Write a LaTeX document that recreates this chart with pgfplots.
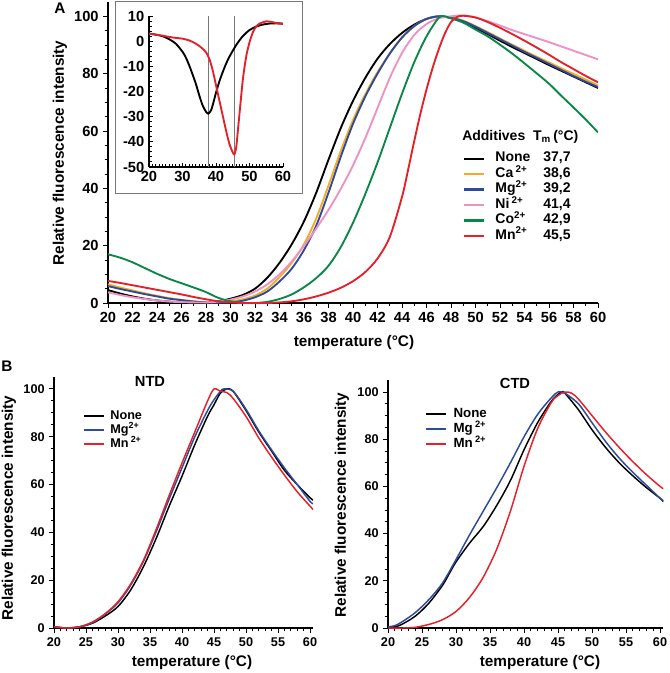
\documentclass[border=0pt]{standalone}
\usepackage{pgfplots}
\pgfplotsset{compat=1.18}
\usepackage{fontspec}
\setmainfont{Liberation Sans}
\definecolor{cNone}{RGB}{0,0,0}
\definecolor{cCa}{RGB}{247,170,35}
\definecolor{cMg}{RGB}{45,75,155}
\definecolor{cNi}{RGB}{238,145,195}
\definecolor{cCo}{RGB}{10,135,70}
\definecolor{cMn}{RGB}{228,32,40}
\definecolor{cGrid}{RGB}{120,120,120}
\begin{document}
\begin{tikzpicture}
\useasboundingbox (0pt,0pt) rectangle (501.75pt,-504.75pt);
\pgfplotsset{
  myaxis/.style={
    scale only axis, anchor=south west,
    axis lines=left, axis line style={-, line width=0.8pt},
    tick align=outside, tick style={line width=0.7pt, black},
    major tick length=3.5pt, minor tick length=2.5pt,
    /pgf/number format/assume math mode=true,
    tick label style={font=\bfseries\fontsize{11}{13}\selectfont},
    legend cell align=left,
  }
}
% ---------------- Panel A main ----------------
\begin{axis}[myaxis,
  at={(81pt,-227.25pt)}, width=367.5pt, height=225.75pt,
  xmin=20, xmax=60, ymin=0, ymax=105,
  xtick={20,22,...,60}, minor x tick num=1,
  ytick={0,20,...,100}, minor y tick num=3,
  legend style={at={(0.7245,0.505)}, anchor=north west, draw=none, fill=none,
    inner sep=0pt, column sep=7.5pt, row sep=0.6pt,
    font=\bfseries\fontsize{10.5}{12}\selectfont,
    nodes={inner sep=0pt, text height=8pt, text depth=3pt}},
  legend image code/.code={\draw[#1, line width=1.6pt] (0pt,0pt) -- (15pt,0pt);},
]
\addplot[cNone, line width=1.4pt, smooth] coordinates {
(20,4.5)(21,3.3)(22,2.3)(23,1.5)(24,0.9)(25,0.5)(26,0.2)(27,0.1)(28,0.2)(29,0.6)(30,1.5)(31,2.8)(32,5)(33,8.8)(34,14)(35,20.5)(36,28.5)(37,38.5)(38,50)(39,61)(40,70.5)(41,78.5)(42,85.2)(43,90.3)(44,94.2)(45,97.1)(46,99.1)(47,100)(48,99.4)(49,98)(50,96)(51,93.8)(52,91.5)(53,89.3)(54,87.2)(55,85.1)(56,83)(57,81)(58,79)(59,77)(60,75)};
\addlegendentry{\makebox[36pt][l]{None}37,7}
\addplot[cCa, line width=1.4pt, smooth] coordinates {
(20,6.5)(21,5.4)(22,4.4)(23,3.4)(24,2.5)(25,1.7)(26,1.1)(27,0.6)(28,0.3)(29,0.3)(30,0.6)(31,1.3)(32,2.6)(33,5)(34,9)(35,14)(36,20.5)(37,29.5)(38,41)(39,53)(40,63.8)(41,72.8)(42,80.5)(43,87)(44,92.6)(45,96.6)(46,99.1)(47,100)(48,99.6)(49,98.5)(50,96.6)(51,94.5)(52,92.3)(53,90.1)(54,88)(55,85.9)(56,83.9)(57,81.9)(58,79.9)(59,77.9)(60,75.9)};
\addlegendentry{\makebox[36pt][l]{Ca\,\textsuperscript{2+}}38,6}
\addplot[cMg, line width=1.4pt, smooth] coordinates {
(20,5.9)(21,4.9)(22,4)(23,3.1)(24,2.3)(25,1.5)(26,1)(27,0.5)(28,0.2)(29,0.1)(30,0.2)(31,0.8)(32,2)(33,4)(34,7.5)(35,12)(36,18.5)(37,27)(38,38.5)(39,51)(40,62.5)(41,72)(42,80)(43,87)(44,92.6)(45,96.6)(46,99.1)(47,100)(48,99.5)(49,98.3)(50,96.4)(51,94.2)(52,92)(53,89.8)(54,87.6)(55,85.5)(56,83.4)(57,81.3)(58,79.2)(59,77.2)(60,75.3)};
\addlegendentry{\makebox[36pt][l]{Mg\textsuperscript{2+}}39,2}
\addplot[cNi, line width=1.4pt, smooth] coordinates {
(20,3.7)(21,2.8)(22,2)(23,1.4)(24,0.9)(25,0.5)(26,0.3)(27,0.2)(28,0.2)(29,0.5)(30,1.2)(31,2.3)(32,4)(33,6.5)(34,10)(35,14.5)(36,20)(37,26)(38,32.5)(39,39.8)(40,48)(41,57.5)(42,68)(43,78.5)(44,87.2)(45,93.5)(46,97.3)(47,99.3)(48,100)(49,100.3)(50,99.6)(51,98.3)(52,96.8)(53,95.2)(54,93.8)(55,92.4)(56,91)(57,89.5)(58,88)(59,86.5)(60,85)};
\addlegendentry{\makebox[36pt][l]{Ni\,\textsuperscript{2+}}41,4}
\addplot[cCo, line width=1.4pt, smooth] coordinates {
(20,17)(21,15.8)(22,14.2)(23,12.2)(24,10.2)(25,8.4)(26,6.9)(27,5.4)(28,3.8)(29,1.8)(30,0.6)(31,0.1)(32,0)(33,0.4)(34,1.4)(35,3)(36,5.5)(37,8.7)(38,13)(39,19.5)(40,28)(41,38)(42,49)(43,61)(44,73)(45,84)(46,93)(47,99.5)(47.5,100)(48,99.3)(49,97.8)(50,95.4)(51,93)(52,90.1)(53,87)(54,83.6)(55,80.1)(56,76.5)(57,72.3)(58,68.2)(59,64)(60,59.5)};
\addlegendentry{\makebox[36pt][l]{Co\textsuperscript{2+}}42,9}
\addplot[cMn, line width=1.4pt, smooth] coordinates {
(20,7.7)(21,7.0)(22,6.2)(23,5.4)(24,4.6)(25,3.8)(26,3.0)(27,2.1)(28,1.3)(29,0.6)(30,0.2)(31,0)(32,0)(33,0)(34,0.2)(35,0.6)(36,1.3)(37,2.3)(38,3.6)(39,5.3)(40,7.6)(41,10.8)(42,15.5)(43,23)(44,37)(44.5,46.5)(45,56.5)(45.5,66)(46,74.5)(46.5,82)(47,88.5)(47.5,94)(48,98)(48.5,99.8)(49,100.2)(50,99.6)(51,98)(52,96)(53,93.8)(54,91.5)(55,89.1)(56,86.6)(57,84)(58,81.6)(59,79.2)(60,77)};
\addlegendentry{\makebox[36pt][l]{Mn\textsuperscript{2+}}45,5}
\end{axis}
\node[anchor=west, font=\bfseries\fontsize{10.5}{12}\selectfont, inner sep=0pt] at (346.5pt,-102.75pt) {Additives~~T\textsubscript{m}\,(°C)};
\node[font=\bfseries\fontsize{11.5}{13}\selectfont] at (45pt,-6pt) {A};
\node[rotate=90, font=\bfseries\fontsize{11.5}{13}\selectfont] at (45pt,-114.75pt) {Relative fluorescence intensity};
\node[font=\bfseries\fontsize{11.5}{13}\selectfont] at (265.5pt,-257.25pt) {temperature (°C)};
% ---------------- Inset ----------------
\draw[fill=white, draw=cGrid, line width=0.6pt] (86.25pt,-0.75pt) rectangle (226.5pt,-144.75pt);
\begin{axis}[myaxis,
  at={(111.75pt,-125.25pt)}, width=100.5pt, height=113.25pt,
  tick align=inside,
  xmin=20, xmax=60, ymin=-50, ymax=10,
  xtick={20,30,...,60}, minor x tick num=9,
  ytick={-50,-40,...,10}, minor y tick num=4,
  major tick length=3pt, minor tick length=2pt,
]
\addplot[cGrid, line width=0.6pt] coordinates {(37.7,-50)(37.7,10)};
\addplot[cGrid, line width=0.6pt] coordinates {(45.5,-50)(45.5,10)};
\addplot[cNone, line width=1.4pt, smooth] coordinates {
(20,3)(22,2.6)(24,2)(26,0.8)(28,-1)(30,-4.2)(31,-6.5)(32,-9.6)(33,-13.2)(34,-17)(35,-21.5)(36,-25.5)(37,-28)(37.7,-28.8)(38.5,-27.5)(39,-25.5)(40,-20.5)(41,-16)(42,-12.3)(43,-9)(44,-6.2)(46,-1.6)(48,2)(50,4.4)(52,5.8)(54,6.6)(56,7)(58,7.1)(60,7)};
\addplot[cMn, line width=1.4pt, smooth] coordinates {
(20,3)(22,2.6)(24,2.2)(26,1.7)(28,1.3)(30,1)(32,0.3)(33,-0.3)(34,-1)(35,-1.9)(36,-3)(37,-4.4)(38,-7)(39,-11.5)(40,-17.5)(41,-23.5)(42,-29.5)(43,-35.5)(44,-40.8)(45,-44.2)(45.5,-45)(46,-42.5)(46.5,-36)(47,-29)(48,-15.5)(49,-6.2)(50,-0.5)(51,3.5)(52,5.8)(53,7)(54,7.5)(55,7.9)(56,7.8)(58,7.2)(60,6.8)};
\end{axis}
% ---------------- Panel B ----------------
\node[font=\bfseries\fontsize{11.5}{13}\selectfont] at (5.25pt,-274.5pt) {B};
\begin{axis}[myaxis,
  at={(40.5pt,-471pt)}, width=194.4pt, height=188.25pt,
  xmin=20, xmax=60.5, ymin=0, ymax=105,
  xtick={20,25,...,60}, minor x tick num=4,
  ytick={0,20,...,100}, minor y tick num=3,
  tick label style={font=\bfseries\fontsize{9.5}{11}\selectfont},
  legend style={at={(0.112,0.872)}, anchor=north west, draw=none, fill=none,
    inner sep=0pt, column sep=4pt, row sep=0.5pt,
    font=\bfseries\fontsize{9.5}{11}\selectfont,
    nodes={inner sep=0pt, text height=7.5pt, text depth=2.5pt}},
  legend image code/.code={\draw[#1, line width=1.3pt] (0pt,0pt) -- (15pt,0pt);},
]
\addplot[cNone, line width=1.1pt, smooth] coordinates {
(20,0.5)(22,0)(24,0.5)(26,2)(28,5)(30,9)(32,16)(34,25.8)(36,37.7)(38,51)(40,63.5)(42,76.7)(44,88.6)(45,93.4)(46,98.3)(47,100)(48,99)(50,91)(52,82)(54,74)(56,66)(58,60)(60,54.5)(60.5,53.5)};
\addlegendentry{None}
\addplot[cMg, line width=1.1pt, smooth] coordinates {
(20,0.5)(22,0)(24,0.5)(26,2.2)(28,5.8)(30,10.5)(32,18)(34,28)(36,40.5)(38,54)(40,67)(42,80)(44,91)(45,95.5)(46,99)(46.5,100)(48,99)(50,91.5)(52,82.5)(54,74.5)(56,67)(58,60)(60,53)(60.5,52)};
\addlegendentry{Mg\textsuperscript{2+}}
\addplot[cMn, line width=1.1pt, smooth] coordinates {
(20,0.5)(22,0)(24,0.5)(26,2.5)(28,6)(30,11)(32,18.5)(34,28.5)(36,41.5)(38,55.5)(40,69)(42,82)(44,95)(45,100)(46,99)(47,98.5)(48,96)(50,88.5)(52,79.5)(54,71.5)(56,64)(58,57)(60,51)(60.5,49.5)};
\addlegendentry{Mn\,\textsuperscript{2+}}
\end{axis}
\node[font=\bfseries\fontsize{11}{13}\selectfont] at (112.5pt,-285.75pt) {NTD};
\node[rotate=90, font=\bfseries\fontsize{11.5}{13}\selectfont] at (6.75pt,-381pt) {Relative fluorescence intensity};
\node[font=\bfseries\fontsize{11.5}{13}\selectfont] at (144pt,-497.25pt) {temperature (°C)};
\begin{axis}[myaxis,
  at={(291pt,-471pt)}, width=206.55pt, height=185.85pt,
  xmin=20, xmax=60.5, ymin=0, ymax=105,
  xtick={20,25,...,60}, minor x tick num=4,
  ytick={0,20,...,100}, minor y tick num=3,
  tick label style={font=\bfseries\fontsize{9.5}{11}\selectfont},
  legend style={at={(0.134,0.894)}, anchor=north west, draw=none, fill=none,
    inner sep=0pt, column sep=5pt, row sep=1pt,
    font=\bfseries\fontsize{10}{12}\selectfont,
    nodes={inner sep=0pt, text height=7.8pt, text depth=2.6pt}},
  legend image code/.code={\draw[#1, line width=1.3pt] (0pt,0pt) -- (15pt,0pt);},
]
\addplot[cNone, line width=1.1pt, smooth] coordinates {
(20,0.5)(21,0.5)(22,1.5)(24,5)(26,10.5)(28,18)(29,23)(30,28)(32,36)(34,43)(36,52)(38,62.5)(40,75.5)(42,87)(44,96)(45,99)(45.5,100)(46,99.5)(48,92.5)(50,84)(52,76.5)(54,70)(56,64.5)(58,59.5)(60,55)(60.5,53.5)};
\addlegendentry{None}
\addplot[cMg, line width=1.1pt, smooth] coordinates {
(20,0.5)(21,1)(22,2.5)(24,6.5)(26,12)(28,19)(30,29)(32,39.5)(34,49.5)(36,59.5)(38,70)(40,81)(42,90.5)(44,97.5)(45,100)(46,99.5)(48,95)(50,87)(52,79)(54,72)(56,66)(58,60.5)(60,55)(60.5,54)};
\addlegendentry{Mg\,\textsuperscript{2+}}
\addplot[cMn, line width=1.1pt, smooth] coordinates {
(20,0)(22,0)(24,0.3)(26,1.5)(28,3.5)(30,7)(32,13)(34,21.5)(36,33.5)(38,49.5)(40,68.5)(42,84.5)(44,95.5)(45,98.5)(46,100)(47,99.5)(48,97)(50,90)(52,83)(54,76.5)(56,70.5)(58,65)(60,60)(60.5,59)};
\addlegendentry{Mn\,\textsuperscript{2+}}
\end{axis}
\node[font=\bfseries\fontsize{11}{13}\selectfont] at (386.25pt,-287.25pt) {CTD};
\node[rotate=90, font=\bfseries\fontsize{11.5}{13}\selectfont] at (256.5pt,-378.75pt) {Relative fluorescence intensity};
\node[font=\bfseries\fontsize{11.5}{13}\selectfont] at (405pt,-497.25pt) {temperature (°C)};
\end{tikzpicture}
\end{document}
